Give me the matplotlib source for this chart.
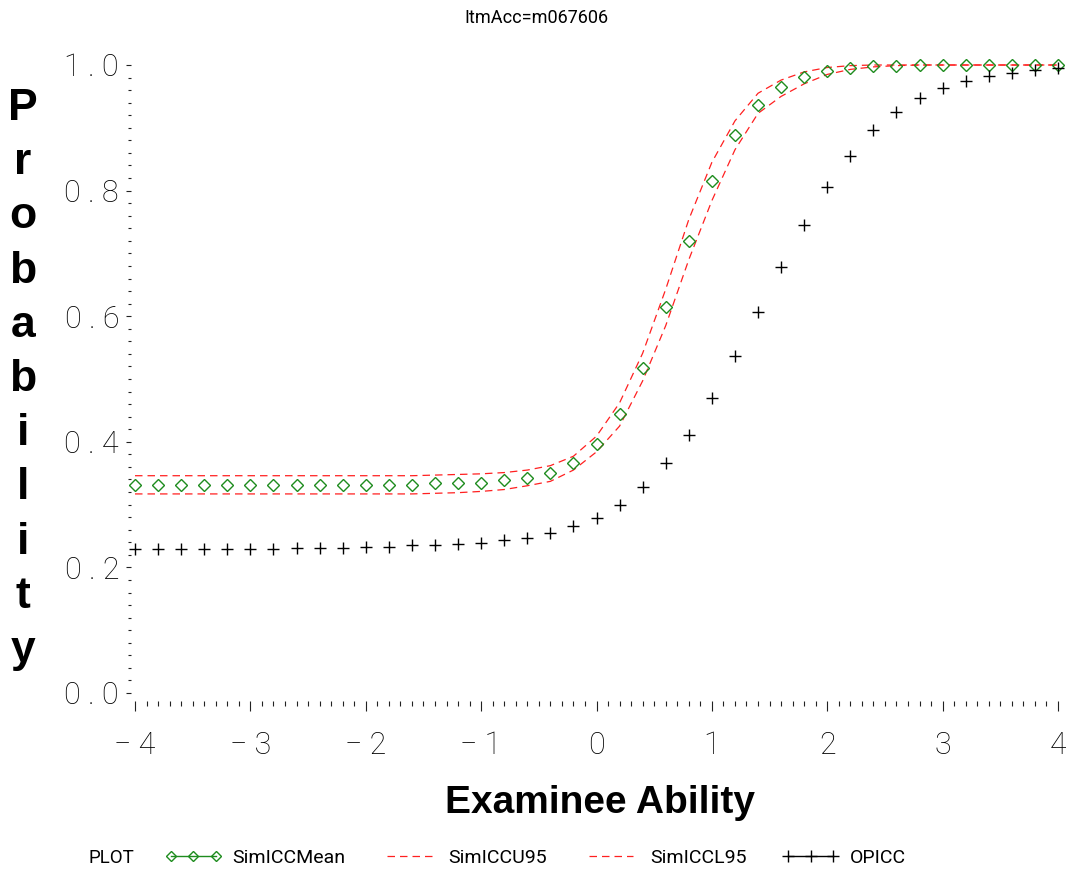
import matplotlib
matplotlib.use('Agg')
import matplotlib.pyplot as plt
from matplotlib.lines import Line2D
from matplotlib.ticker import MultipleLocator, FuncFormatter

# thin condensed look for ticks/legend/title
plt.rcParams['font.family'] = ['Roboto', 'DejaVu Sans']
plt.rcParams['font.weight'] = 'light'

# examinee ability grid
ability = [-4.0, -3.8, -3.6, -3.4, -3.2, -3.0, -2.8, -2.6, -2.4, -2.2, -2.0,
           -1.8, -1.6, -1.4, -1.2, -1.0, -0.8, -0.6, -0.4, -0.2,
           0.0, 0.2, 0.4, 0.6, 0.8, 1.0, 1.2, 1.4, 1.6, 1.8, 2.0,
           2.2, 2.4, 2.6, 2.8, 3.0, 3.2, 3.4, 3.6, 3.8, 4.0]

sim_icc_mean = [0.332, 0.332, 0.332, 0.332, 0.332, 0.332, 0.332, 0.332, 0.332, 0.332, 0.332,
                0.332, 0.332, 0.334, 0.334, 0.335, 0.339, 0.343, 0.351, 0.367,
                0.396, 0.444, 0.517, 0.614, 0.720, 0.816, 0.889, 0.937, 0.965, 0.981, 0.990,
                0.995, 0.998, 0.999, 1.000, 1.000, 1.000, 1.000, 1.000, 1.000, 1.000]

sim_icc_u95 = [0.346, 0.346, 0.346, 0.346, 0.346, 0.346, 0.346, 0.346, 0.346, 0.346, 0.346,
               0.346, 0.346, 0.347, 0.348, 0.349, 0.351, 0.355, 0.362, 0.377,
               0.409, 0.462, 0.541, 0.643, 0.754, 0.845, 0.911, 0.955, 0.976, 0.989, 0.996,
               0.999, 1.000, 1.000, 1.000, 1.000, 1.000, 1.000, 1.000, 1.000, 1.000]

sim_icc_l95 = [0.317, 0.317, 0.317, 0.317, 0.317, 0.317, 0.317, 0.317, 0.317, 0.317, 0.317,
               0.317, 0.317, 0.318, 0.319, 0.321, 0.324, 0.330, 0.337, 0.355,
               0.384, 0.425, 0.497, 0.585, 0.690, 0.784, 0.865, 0.923, 0.950, 0.970, 0.985,
               0.993, 0.997, 0.999, 1.000, 1.000, 1.000, 1.000, 1.000, 1.000, 1.000]

opicc = [0.229, 0.229, 0.229, 0.229, 0.229, 0.230, 0.230, 0.231, 0.231, 0.231, 0.232,
         0.233, 0.235, 0.236, 0.237, 0.239, 0.243, 0.247, 0.254, 0.266,
         0.279, 0.300, 0.328, 0.366, 0.411, 0.469, 0.536, 0.606, 0.679, 0.746, 0.806,
         0.855, 0.896, 0.925, 0.948, 0.963, 0.975, 0.982, 0.988, 0.992, 0.995]

x_ticks = [-4, -3, -2, -1, 0, 1, 2, 3, 4]
y_ticks = [0.0, 0.2, 0.4, 0.6, 0.8, 1.0]
series_names = ['SimICCMean', 'SimICCU95', 'SimICCL95', 'OPICC']

GREEN = '#1e8c1e'
RED = '#ff2020'
W, H = 1066, 874

fig = plt.figure(figsize=(W / 100, H / 100), dpi=100)
ax = fig.add_axes([135 / W, (H - 693) / H, 923 / W, 628 / H])

dash = (0, (6, 4))
ax.plot(ability, sim_icc_u95, color=RED, lw=0.9, linestyle=dash, clip_on=False)
ax.plot(ability, sim_icc_l95, color=RED, lw=0.9, linestyle=dash, clip_on=False)
ax.plot(ability, sim_icc_mean, linestyle='none', marker='D', ms=6, mfc='none',
        mec=GREEN, mew=1.0, clip_on=False)
ax.plot(ability, opicc, linestyle='none', marker='+', ms=9, mec='black', mew=1.0,
        clip_on=False)

ax.set_xlim(-4, 4)
ax.set_ylim(0, 1)
for s in ax.spines.values():
    s.set_visible(False)
ax.spines['left'].set_position(('outward', 3))
ax.spines['bottom'].set_position(('outward', 6))

ax.set_xticks(x_ticks)
ax.set_yticks(y_ticks)
ax.xaxis.set_minor_locator(MultipleLocator(0.1))
ax.yaxis.set_minor_locator(MultipleLocator(0.02))
ax.xaxis.set_major_formatter(FuncFormatter(lambda v, p: str(int(round(v))).replace('-', '\u2212 ')))
ax.yaxis.set_major_formatter(FuncFormatter(lambda v, p: ' . '.join(f'{v:.1f}'.split('.'))))

ax.tick_params(axis='x', which='major', direction='out', length=7.5, width=0.8,
               pad=14, labelsize=22, color='#222222')
ax.tick_params(axis='x', which='minor', direction='out', length=3.5, width=0.8, color='#222222')
ax.tick_params(axis='y', which='major', direction='out', length=3.5, width=0.8,
               pad=5, labelsize=22, color='#222222')
ax.tick_params(axis='y', which='minor', direction='out', length=2, width=0.8, color='#222222')

# title
fig.text(536 / W, 1 - 18 / H, 'ItmAcc=m067606', ha='center', va='center', fontsize=13,
         fontweight='normal')

# x axis label
fig.text(600 / W, 1 - 803 / H, 'Examinee Ability', ha='center', va='center',
         fontsize=28, fontweight='bold', family=['Liberation Sans', 'DejaVu Sans'])

# y axis label, one upright letter per line
for i, ch in enumerate('Probability'):
    fig.text(23 / W, 1 - (120 + i * 54.2) / H, ch, ha='center', va='baseline',
             fontsize=32, fontweight='bold', family=['Liberation Sans', 'DejaVu Sans'])

# legend
handles = [
    Line2D([], [], color=GREEN, lw=1, marker='D', ms=5, mfc='none', mec=GREEN),
    Line2D([], [], color=RED, lw=0.9, linestyle=dash),
    Line2D([], [], color=RED, lw=0.9, linestyle=dash),
    Line2D([], [], color='black', lw=1, marker='+', ms=9, mec='black'),
]
fig.text(88 / W, 1 - 858 / H, 'PLOT', ha='left', va='center', fontsize=13.5,
         fontweight='normal')
leg = fig.legend(handles, series_names, loc='center left',
                 bbox_to_anchor=(165 / W, 1 - 858 / H),
                 ncol=4, frameon=False, numpoints=3, fontsize=14, handlelength=2.9,
                 handletextpad=0.55, columnspacing=1.85, borderpad=0, borderaxespad=0)
for t in leg.get_texts():
    t.set_fontweight('normal')

fig.savefig('out.png', dpi=100)
